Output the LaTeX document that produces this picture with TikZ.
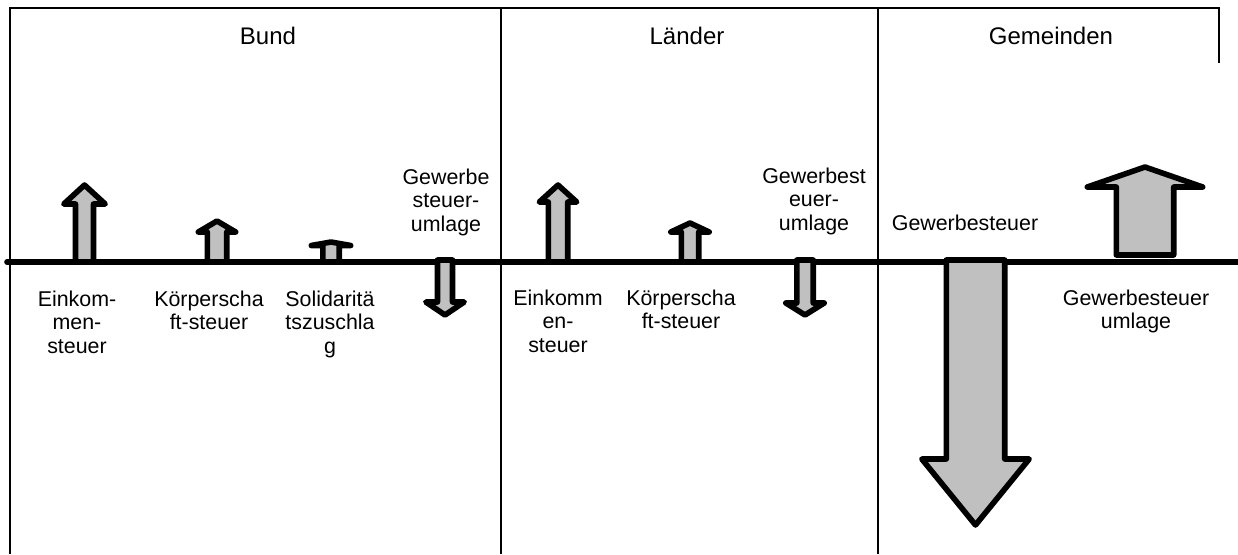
\documentclass[tikz,border=0pt]{standalone}
\usepackage{fontspec}
\setmainfont{Liberation Sans}

\definecolor{arrowgray}{RGB}{192,192,192}

% block arrow: centre x, tail y, tip y, head base y, shaft half width, head half width
\newcommand{\blockarrow}[6]{%
  \draw[flow] (#1-#5,#2) -- (#1-#5,#4) -- (#1-#6,#4) -- (#1,#3)
    -- (#1+#6,#4) -- (#1+#5,#4) -- (#1+#5,#2) -- cycle;}

\begin{document}
\begin{tikzpicture}[
      x=0.5pt, y=-0.5pt,
      frame/.style={line width=1.35pt},
      axis/.style={line width=2.8pt, line cap=round},
      flow/.style={draw, fill=arrowgray, line width=2.8pt, line join=round},
      levelhead/.style={font=\fontsize{12}{14}\selectfont, anchor=base, inner sep=0pt},
      lbl/.style={font=\fontsize{10.7}{11.7}\selectfont, align=center, anchor=north, inner sep=0pt}
      ]

      \useasboundingbox (0,0) rectangle (1238,554);

      % Table frame
      \draw[frame] (10,554) -- (10,8) -- (1219,8) -- (1219,63);
      \draw[frame] (501,8) -- (501,554);
      \draw[frame] (878,8) -- (878,554);

      % Zero line
      \draw[axis] (7,262) -- (1238,262);

      % Headers
      \node[levelhead] (bund) at (268,44.5) {Bund};
      \node[levelhead] (laender) at (687,44.5) {Länder};
      \node[levelhead] (gemeinden) at (1051,44.5) {Gemeinden};

      % Bund
      \blockarrow{84.5}{262}{185}{204}{9}{20.7}
      \blockarrow{217}{262}{221}{232}{9.7}{18.7}
      \blockarrow{331}{262}{242}{245.5}{8.2}{19.7}
      \blockarrow{445}{260}{315}{302}{7.5}{19.2}
      \node[lbl] (estBund) at (77,290.4) {Einkom-\\men-\\steuer};
      \node[lbl] (kstBund) at (209,290.4) {Körperscha\\ft-steuer};
      \node[lbl] (soli) at (330,290.4) {Solidaritä\\tszuschla\\g};
      \node[lbl] (umlageBund) at (446,168.4) {Gewerbe\\steuer-\\umlage};

      % Länder
      \blockarrow{558}{262}{185}{202}{9.7}{18.7}
      \blockarrow{690}{262}{223}{232}{8.7}{19.2}
      \blockarrow{805}{260}{315}{303}{8.2}{19.2}
      \node[lbl] (estLand) at (558,289.4) {Einkomm\\en-\\steuer};
      \node[lbl] (kstLand) at (681,289.4) {Körperscha\\ft-steuer};
      \node[lbl] (umlageLand) at (814,167.4) {Gewerbest\\euer-\\umlage};

      % Gemeinden
      \blockarrow{975.5}{260}{525}{459}{29.2}{53.7}
      \blockarrow{1145}{255}{167}{187}{28.7}{57.7}
      \node[lbl] (gewst) at (965,214.4) {Gewerbesteuer};
      \node[lbl] (umlageGem) at (1136,289.4) {Gewerbesteuer\\umlage};

   \end{tikzpicture}
\end{document}
